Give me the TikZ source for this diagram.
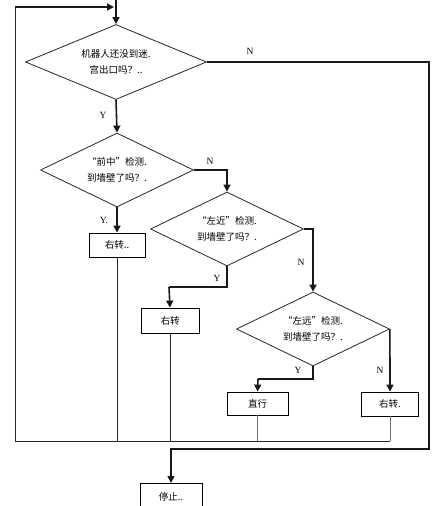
\documentclass[tikz,border=0pt]{standalone}
\usepackage{fontspec}
\newfontfamily\cjk{Noto Sans CJK SC}
\newfontfamily\ser{Liberation Serif}
\usetikzlibrary{shapes.geometric,arrows.meta}
\begin{document}
\begin{tikzpicture}[x=1pt,y=-1pt,
  dec/.style={diamond, draw=black!85, line width=0.8pt, aspect=2.07, inner sep=0pt,
    minimum width=153pt, minimum height=74pt, align=center,
    font=\cjk\fontsize{9.5}{16}\selectfont},
  proc/.style={rectangle, draw=black, line width=0.8pt, inner sep=0pt, minimum height=24pt,
    font=\cjk\fontsize{9.5}{12}\selectfont},
  flow/.style={line width=1.6pt, draw=black!90, -{Triangle[length=7pt,width=7pt]}},
  link/.style={line width=1.6pt, draw=black!90},
  thinln/.style={line width=0.9pt, draw=black!85},
  grayln/.style={line width=1pt, draw=black!55},
  lab/.style={font=\ser\fontsize{9.5}{11}\selectfont, inner sep=0pt}
]
\useasboundingbox (0,0) rectangle (435,506);

% nodes
\node[dec, minimum width=181pt, minimum height=75pt] (d1) at (116,62) {机器人还没到迷.\\宫出口吗？..};
\node[dec] (d2) at (117,170) {“前中”检测.\\到墙壁了吗？.};
\node[dec] (d3) at (227,229) {“左近”检测.\\到墙壁了吗？.};
\node[dec] (d4) at (313,329) {“左远”检测.\\到墙壁了吗？.};
\node[proc, minimum width=56pt] (b1) at (117,245) {右转..};
\node[proc, minimum width=58pt, minimum height=25pt] (b2) at (170,320.5) {右转};
\node[proc, minimum width=61pt, minimum height=23pt] (b3) at (257.5,403.5) {直行};
\node[proc, minimum width=57pt] (b4) at (390,404) {右转.};
\node[proc, minimum width=62pt, minimum height=30pt, anchor=north] (stop) at (171,483) {停止..\\[-10pt]\strut};

% coordinates
\coordinate (top) at (116,0);
\coordinate (rc) at (429,449);
\coordinate (j3) at (169,287);
\coordinate (j4) at (258,379);
\coordinate (lb) at (15,441);
\coordinate (lt) at (15,7);
\coordinate (le) at (114,7);

% main connectors
\draw[flow] (top) -- (d1.north);
\draw[flow] (d1.south) -- (d2.north);
\draw[flow] (d1.east) -| (rc) -| (stop.north);
\draw[flow] (d2.south) -- (b1.north);
\draw[flow] (d2.east) -| (d3.north);
\draw[link] (d3.south) |- (j3);
\draw[flow] (j3) -- (b2.north);
\draw[flow] (d3.east) -| (d4.north);
\draw[link] (d4.south) |- (j4);
\draw[flow] (j4) -- (b3.north);
\draw[flow] (d4.east) -- (b4.north);

% return lines
\draw[thinln] (b1.south) -- (b1.south |- lb);
\draw[thinln] (b2.south) -- (b2.south |- lb);
\draw[grayln] (b3.south) -- (b3.south |- lb);
\draw[grayln] (b4.south) -- (b4.south |- lb);
\draw[thinln] (b4.south |- lb) -- (lb) -- (lt);
\draw[flow] (lt) -- (le);

% labels
\node[lab] (lY1) at (103,115) {Y};
\node[lab] (lN1) at (250,51) {N};
\node[lab] (lN2) at (210,161) {N};
\node[lab] (lY2) at (104,220) {Y.};
\node[lab] (lY3) at (217,278) {Y};
\node[lab] (lN3) at (301,262) {N};
\node[lab] (lY4) at (298,370) {Y};
\node[lab] (lN4) at (380,370) {N};
\end{tikzpicture}
\end{document}
